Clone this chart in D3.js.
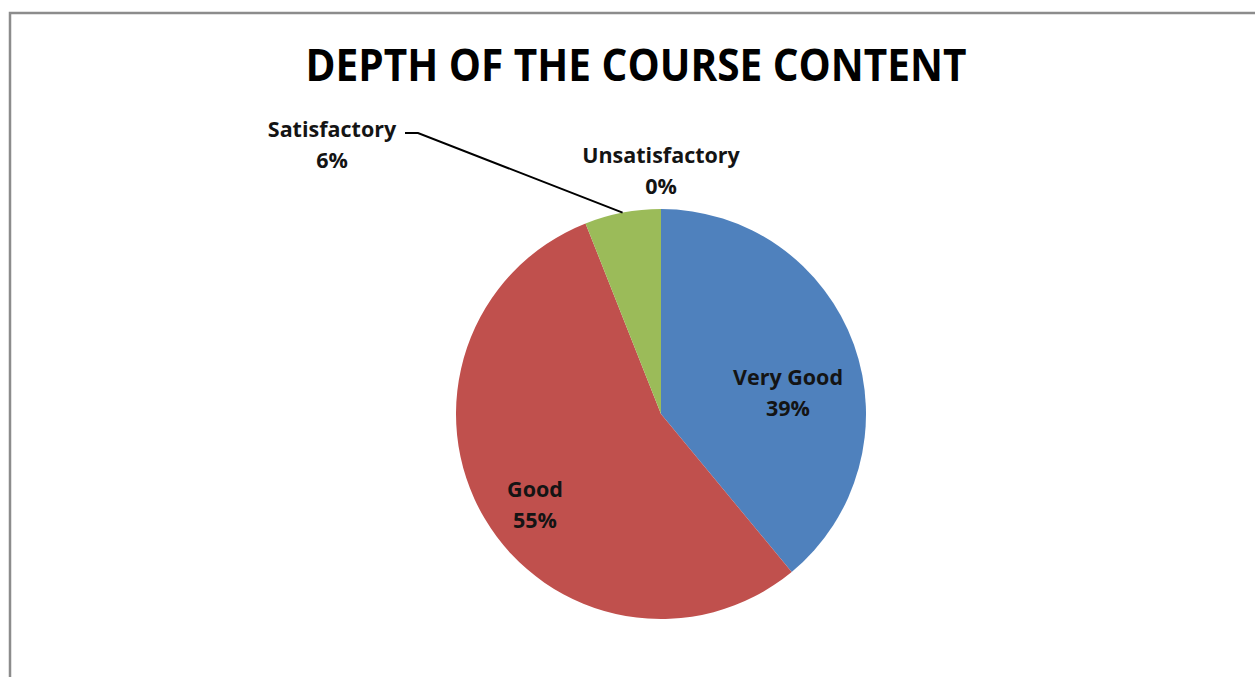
<!DOCTYPE html>
<html>
<head>
<meta charset="utf-8">
<script src="https://cdn.jsdelivr.net/npm/d3@7"></script>
<style>
  body { margin: 0; background: #fff; }
  svg { display: block; }
  text { font-family: "Open Sans", "DejaVu Sans", sans-serif; font-weight: bold; }
</style>
</head>
<body>
<svg id="chart" width="1255" height="677"></svg>
<script>
// data
let categories = ["Very Good", "Good", "Satisfactory", "Unsatisfactory"];
let shares = [39, 55, 6, 0];
let colors = ["#4F81BD", "#C0504D", "#9BBB59", "#8064A2"];
let title = "DEPTH OF THE COURSE CONTENT";

let svg = d3.select("#chart");
let W = +svg.attr("width"), H = +svg.attr("height");

// frame (only left and top edges visible)
svg.append("path")
    .attr("d", "M10," + H + "V13H" + W)
    .attr("fill", "none")
    .attr("stroke", "#8c8c8c")
    .attr("stroke-width", 2.5);

svg.append("text")
    .attr("x", 636)
    .attr("y", 81)
    .attr("text-anchor", "middle")
    .attr("font-size", 45)
    .attr("textLength", 661)
    .attr("lengthAdjust", "spacingAndGlyphs")
    .attr("fill", "#000")
    .text(title);

let cx = 661, cy = 414, r = 205;
let color = d3.scaleOrdinal().domain(categories).range(colors);

let pie = d3.pie().sort(null).value(function(d) { return d.v; });
let arcs = pie(categories.map(function(c, i) { return {name: c, v: shares[i]}; }));
let arc = d3.arc().innerRadius(0).outerRadius(r);

let g = svg.append("g").attr("transform", "translate(" + cx + "," + cy + ")");

g.selectAll("path.slice")
  .data(arcs)
  .enter().append("path")
    .attr("class", "slice")
    .attr("d", arc)
    .attr("fill", function(d) { return color(d.data.name); });

// label placement (Excel "best fit" look)
let labelAt = {
  "Very Good":      {x: 127, y: -29, lead: false},
  "Good":           {x: -126, y: 83, lead: false},
  "Satisfactory":   {x: -329, y: -277, lead: true},
  "Unsatisfactory": {x: 0, y: -251, lead: false}
};

arcs.forEach(function(d) {
  let p = labelAt[d.data.name];
  let t = g.append("text")
      .attr("text-anchor", "middle")
      .attr("font-size", 21.5)
      .attr("fill", "#141414");
  t.append("tspan").attr("x", p.x).attr("y", p.y).text(d.data.name);
  t.append("tspan").attr("x", p.x).attr("dy", 31).text(d.data.v + "%");

  if (p.lead) {
    let mid = (d.startAngle + d.endAngle) / 2;
    let ex = Math.sin(mid) * r, ey = -Math.cos(mid) * r;
    let sx = p.x + 73, sy = p.y - 4;
    g.append("path")
        .attr("d", "M" + sx + "," + sy + "H" + (sx + 13) + "L" + ex + "," + ey)
        .attr("fill", "none")
        .attr("stroke", "#000")
        .attr("stroke-width", 2);
  }
});
</script>
</body>
</html>
